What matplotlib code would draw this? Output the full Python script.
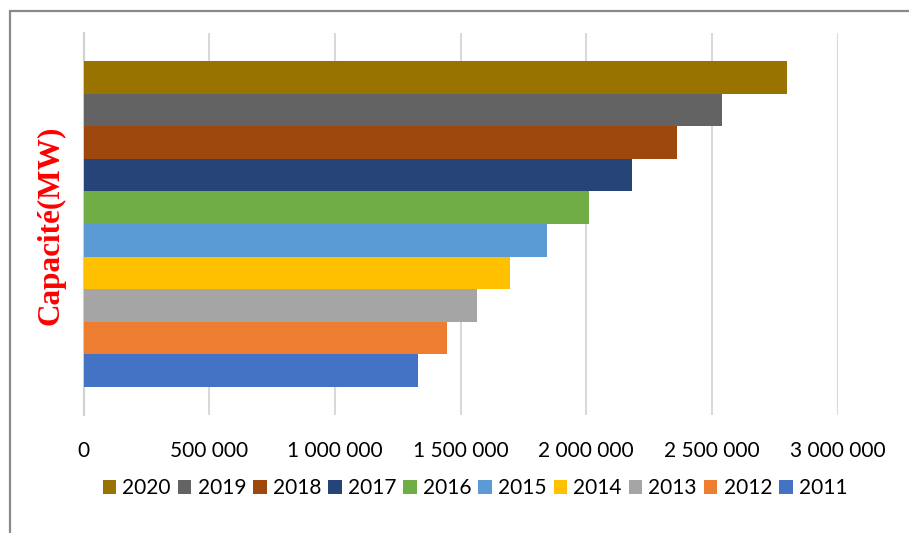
import matplotlib
matplotlib.use("Agg")
import matplotlib.pyplot as plt
from matplotlib.patches import Rectangle
from matplotlib.ticker import FuncFormatter

# Installed capacity by year (MW)
years = ["2011", "2012", "2013", "2014", "2015", "2016", "2017", "2018", "2019", "2020"]
capacity = [1329000, 1445000, 1564000, 1695000, 1846000, 2010000, 2181000, 2360000, 2539000, 2801000]
colors = ["#4472c4", "#ed7d31", "#a5a5a5", "#ffc000", "#5b9bd5",
          "#70ad47", "#264478", "#9e480e", "#636363", "#997300"]
x_ticks = [0, 500000, 1000000, 1500000, 2000000, 2500000, 3000000]

plt.rcParams["font.family"] = ["Lato", "DejaVu Sans"]

W, H = 909, 533
fig = plt.figure(figsize=(W / 100, H / 100), dpi=100)

# outer chart frame (right and bottom edges fall outside the canvas)
fig.patches.append(Rectangle((9.5 / W, -0.1), 1.2, 1.1 - 11 / H,
                             transform=fig.transFigure, fill=False,
                             edgecolor="#898989", linewidth=1.6, zorder=0))

ax = fig.add_axes([83.5 / W, (H - 415) / H, 754 / W, 382 / H])

handles = []
for i, (yr, val, col) in enumerate(zip(years, capacity, colors)):
    b = ax.barh(i, val, height=1.0, color=col, label=yr, zorder=3)
    handles.append(b)

ax.set_xlim(0, 3000000)
ax.set_ylim(-1.375, 10.375)
ax.set_xticks(x_ticks)
ax.xaxis.set_major_formatter(FuncFormatter(lambda v, p: f"{int(v):,}".replace(",", " ")))
ax.set_yticks([])
ax.tick_params(axis="x", length=0, pad=19, labelsize=15, labelcolor="#000000")
ax.grid(axis="x", color="#d9d9d9", linewidth=1.5, zorder=0)
for s in ["top", "right", "bottom"]:
    ax.spines[s].set_visible(False)
ax.spines["left"].set_color("#d0d0d0")
ax.spines["left"].set_linewidth(1.5)

fig.text(51 / W, 1 - 225 / H, "Capacité(MW)", rotation=90, ha="center", va="center",
         color="#ff0000", fontsize=22.5, fontweight="bold",
         family=["Liberation Serif", "DejaVu Serif"])

fig.legend(handles[::-1], years[::-1], loc="center", ncol=10,
           bbox_to_anchor=(475 / W, 1 - 488 / H), frameon=False,
           fontsize=15, handlelength=0.65, handleheight=0.65,
           handletextpad=0.3, columnspacing=0.33, borderpad=0)

fig.savefig("out.png", dpi=100, facecolor="white")
